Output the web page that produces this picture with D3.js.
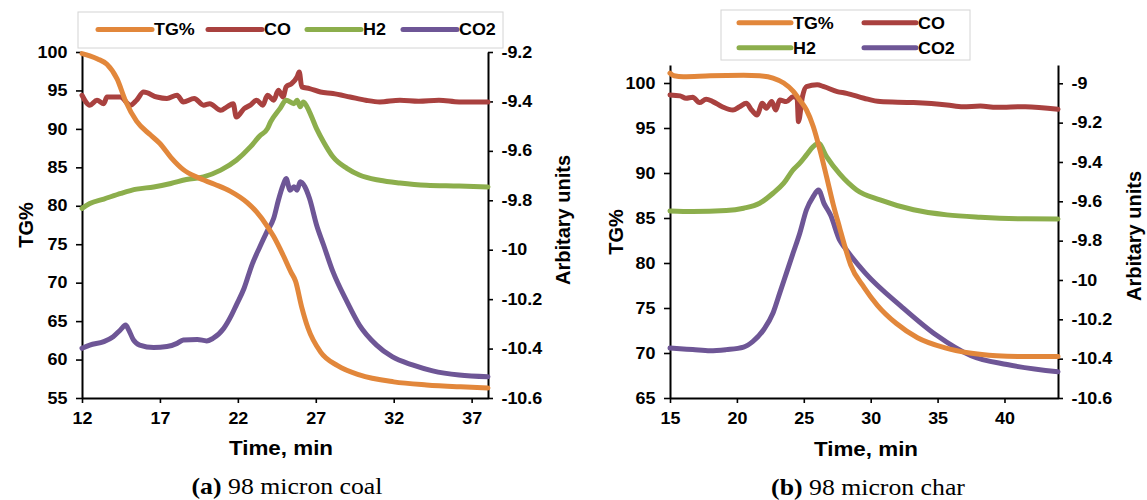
<!DOCTYPE html>
<html>
<head>
<meta charset="utf-8">
<script src="https://cdn.jsdelivr.net/npm/d3@7"></script>
<style>
  body { margin: 0; background: #fff; }
</style>
</head>
<body>
<div id="chart"></div>
<script>
// ---- data: [time in min, value] ----
// (a) 98 micron coal
const coalTG = [[12,99.8],[12.5,99.5],[13,99.1],[13.6,98.4],[14.25,96.5],[14.8,93.6],[15.5,91.0],[16.4,89.2],[17.0,88.1],[17.7,86.3],[18.5,84.7],[19.4,83.7],[20.5,82.8],[21.5,81.9],[22.6,80.4],[23.2,79.2],[23.9,77.3],[24.3,76.0],[24.9,73.6],[25.4,71.4],[25.7,70.2],[26.1,66.8],[26.5,64.1],[27.3,61.0],[28.4,59.2],[29.8,58.0],[32.0,57.1],[34.1,56.7],[36.3,56.45],[38.05,56.3]];
const coalCO = [[12,-9.375],[12.5,-9.415],[12.96,-9.395],[13.4,-9.409],[13.6,-9.382],[14.46,-9.382],[15.1,-9.415],[15.5,-9.395],[15.95,-9.362],[16.8,-9.382],[17.45,-9.388],[18.1,-9.375],[18.5,-9.402],[19.2,-9.388],[19.8,-9.415],[20.2,-9.409],[20.9,-9.436],[21.3,-9.422],[21.7,-9.409],[21.9,-9.463],[22.4,-9.429],[22.8,-9.415],[23.2,-9.395],[23.6,-9.415],[23.9,-9.375],[24.3,-9.395],[24.6,-9.355],[24.9,-9.382],[25.1,-9.341],[25.45,-9.328],[25.8,-9.301],[25.94,-9.281],[26.1,-9.341],[26.6,-9.348],[27.3,-9.362],[28.1,-9.368],[29.2,-9.382],[30.2,-9.395],[31.1,-9.402],[32.4,-9.395],[33.6,-9.399],[34.9,-9.395],[36.2,-9.402],[38.05,-9.402]];
const coalH2 = [[12,-9.833],[12.5,-9.813],[13.4,-9.795],[14.5,-9.772],[15.5,-9.755],[16.6,-9.746],[17.7,-9.732],[18.7,-9.716],[19.8,-9.705],[20.9,-9.678],[21.9,-9.638],[22.8,-9.584],[23.4,-9.54],[23.9,-9.51],[24.1,-9.483],[24.7,-9.429],[25.1,-9.395],[25.6,-9.409],[25.8,-9.395],[26.0,-9.422],[26.2,-9.402],[26.6,-9.443],[27.05,-9.51],[27.5,-9.564],[28.1,-9.624],[29.0,-9.671],[29.8,-9.698],[31.1,-9.719],[32.4,-9.73],[34.1,-9.739],[36.2,-9.742],[38.05,-9.746]];
const coalCO2 = [[12,-10.399],[12.5,-10.386],[13.4,-10.372],[14.0,-10.352],[14.46,-10.325],[14.8,-10.305],[15.0,-10.325],[15.3,-10.365],[15.7,-10.386],[16.6,-10.396],[17.45,-10.392],[18.1,-10.379],[18.5,-10.365],[19.4,-10.363],[20.0,-10.369],[20.4,-10.359],[21.1,-10.318],[21.6,-10.264],[21.9,-10.224],[22.4,-10.156],[22.9,-10.062],[23.4,-9.99],[23.86,-9.928],[24.3,-9.873],[24.6,-9.8],[24.9,-9.739],[25.1,-9.712],[25.35,-9.759],[25.6,-9.745],[25.8,-9.759],[26.0,-9.725],[26.3,-9.745],[26.6,-9.793],[27.05,-9.9],[27.5,-9.981],[28.1,-10.089],[29.0,-10.21],[29.8,-10.305],[30.9,-10.386],[31.9,-10.433],[33.2,-10.466],[34.5,-10.49],[36.2,-10.507],[38.05,-10.514]];

// (b) 98 micron char
const charTG = [[15,101.1],[15.3,100.8],[16,100.7],[18,100.8],[20.5,100.85],[21.7,100.8],[22.7,100.55],[23.5,100.0],[24.2,99.1],[24.7,98.1],[25.2,97.0],[25.7,95.2],[26.2,92.6],[26.7,89.6],[27.2,86.5],[27.7,83.8],[28.0,82.2],[28.5,79.8],[29.5,77.3],[30.5,75.3],[31.9,73.3],[33.5,71.7],[35.5,70.6],[37.4,70.0],[39.4,69.7],[41.6,69.6],[44,69.6]];
const charCO = [[15,-9.059],[15.75,-9.064],[16.2,-9.076],[16.7,-9.071],[17.2,-9.098],[17.7,-9.081],[18.2,-9.093],[18.9,-9.119],[19.7,-9.136],[20.2,-9.119],[20.7,-9.102],[21.1,-9.136],[21.5,-9.161],[21.9,-9.102],[22.2,-9.127],[22.6,-9.093],[22.9,-9.136],[23.2,-9.085],[23.7,-9.093],[24.2,-9.068],[24.5,-9.076],[24.6,-9.195],[24.9,-9.068],[25.2,-9.017],[26.0,-9.008],[26.5,-9.017],[27.5,-9.042],[28.2,-9.051],[29.5,-9.076],[30.7,-9.093],[33.2,-9.098],[35.7,-9.11],[36.9,-9.119],[38.2,-9.116],[39.4,-9.122],[41.55,-9.119],[44,-9.132]];
const charH2 = [[15,-9.649],[16.7,-9.652],[19.2,-9.647],[20.5,-9.635],[21.7,-9.61],[22.7,-9.559],[23.5,-9.508],[24.2,-9.44],[24.7,-9.406],[25.2,-9.364],[25.7,-9.322],[26.1,-9.305],[26.7,-9.373],[27.7,-9.462],[28.95,-9.542],[30.7,-9.593],[33.2,-9.643],[35.7,-9.669],[38.2,-9.681],[41.55,-9.689],[44,-9.69]];
const charCO2 = [[15,-10.346],[16.7,-10.354],[18.0,-10.36],[19.2,-10.354],[20.5,-10.341],[21.2,-10.312],[22.0,-10.253],[22.7,-10.168],[23.2,-10.067],[23.7,-9.965],[24.2,-9.863],[24.7,-9.762],[25.2,-9.643],[25.7,-9.576],[26.1,-9.542],[26.5,-9.609],[27.0,-9.67],[27.7,-9.8],[28.0,-9.83],[29.6,-9.965],[32.3,-10.135],[34.9,-10.28],[37.5,-10.385],[40.2,-10.43],[44,-10.467]];

const seriesNames = ["TG%", "CO", "H2", "CO2"];
const seriesColors = ["#e2873b", "#a9413f", "#8cae4c", "#6e5696"];

const coalTimeTicks = [12, 17, 22, 27, 32, 37];
const charTimeTicks = [15, 20, 25, 30, 35, 40];
const coalTGTicks = [55, 60, 65, 70, 75, 80, 85, 90, 95, 100];
const charTGTicks = [65, 70, 75, 80, 85, 90, 95, 100];
const coalArbTicks = [-10.6, -10.4, -10.2, -10, -9.8, -9.6, -9.4, -9.2];
const charArbTicks = [-10.6, -10.4, -10.2, -10, -9.8, -9.6, -9.4, -9.2, -9];

const W = 1147, H = 500;
const SANS = "'Liberation Sans', Arial, Helvetica, sans-serif";
const SERIF = "'Liberation Serif', 'Times New Roman', serif";
const SX = 1.12; // figure is slightly stretched sideways

const svg = d3.select("#chart").append("svg")
  .attr("width", W).attr("height", H)
  .attr("viewBox", [0, 0, W, H]);

function label(x, y, str, size, anchor, rot, family, weight) {
  const t = svg.append("text")
    .attr("text-anchor", anchor)
    .attr("font-family", family || SANS)
    .attr("font-weight", weight || "bold")
    .attr("font-size", size)
    .attr("fill", "#000")
    .attr("transform", rot ? `translate(${x},${y}) rotate(${rot})`
                           : `translate(${x},${y}) scale(${SX},1)`);
  if (typeof str === "string") t.text(str);
  return t;
}

function panel(p) {
  const x = d3.scaleLinear().domain(p.xDomain).range([p.left, p.right]);
  const yL = d3.scaleLinear().domain(p.yLDomain).range([p.bottom, p.top]);
  const yR = d3.scaleLinear().domain(p.yRDomain).range([p.bottom, p.top]);
  const fmt = d => String(+d.toFixed(1));

  const styleAxis = g => {
    g.attr("font-family", SANS).attr("font-weight", "bold").attr("font-size", 16);
    g.select(".domain").attr("stroke", "#000").attr("stroke-width", 2);
    g.selectAll(".tick line").attr("stroke", "#000").attr("stroke-width", 1.6);
    g.selectAll(".tick text").attr("fill", "#000");
  };

  svg.append("g").attr("transform", `translate(0,${p.bottom})`)
    .call(d3.axisBottom(x).tickValues(p.xTicks).tickSize(5).tickSizeOuter(0).tickPadding(10))
    .call(styleAxis)
    .call(g => g.selectAll(".tick text").attr("transform", `scale(${SX},1)`));

  svg.append("g").attr("transform", `translate(${p.left},0)`)
    .call(d3.axisLeft(yL).tickValues(p.yLTicks).tickSize(6).tickSizeOuter(0).tickPadding(7))
    .call(styleAxis)
    .call(g => g.selectAll(".tick text").attr("transform", `scale(${SX},1)`));

  svg.append("g").attr("transform", `translate(${p.right},0)`)
    .call(d3.axisRight(yR).tickValues(p.yRTicks).tickFormat(fmt).tickSize(5).tickSizeOuter(0).tickPadding(7))
    .call(styleAxis)
    .call(g => g.selectAll(".tick text").attr("transform", `scale(${SX},1)`));

  // curves: TG% on the left axis, gases on the right axis
  const lineL = d3.line().x(d => x(d[0])).y(d => yL(d[1])).curve(d3.curveMonotoneX);
  const lineR = d3.line().x(d => x(d[0])).y(d => yR(d[1])).curve(d3.curveMonotoneX);
  const order = [1, 2, 3, 0];
  order.forEach(i => {
    svg.append("path")
      .datum(p.series[i])
      .attr("d", i === 0 ? lineL : lineR)
      .attr("fill", "none")
      .attr("stroke", seriesColors[i])
      .attr("stroke-width", 5)
      .attr("stroke-linejoin", "round")
      .attr("stroke-linecap", "round");
  });

  // legend
  const lg = p.legend;
  svg.append("rect")
    .attr("x", lg.x0).attr("y", lg.y0)
    .attr("width", lg.x1 - lg.x0).attr("height", lg.y1 - lg.y0)
    .attr("fill", "#fff").attr("stroke", "#d4d4d4").attr("stroke-width", 1);
  lg.items.forEach((it, i) => {
    svg.append("line")
      .attr("x1", it[0]).attr("x2", it[0] + lg.len)
      .attr("y1", it[1]).attr("y2", it[1])
      .attr("stroke", seriesColors[i]).attr("stroke-width", 5)
      .attr("stroke-linecap", "round");
    label(it[0] + lg.len + 2, it[1] + 5.8, seriesNames[i], 16, "start");
  });

  // titles
  label(p.yLTitle[0], p.yLTitle[1], "TG%", 20, "middle", -90);
  label(p.yRTitle[0], p.yRTitle[1], "Arbitary units", 20, "middle", -90);
  label(p.xTitle[0], p.xTitle[1], "Time, min", 20, "middle");

  const cap = label(p.caption[0], p.caption[1], null, 23, "middle", 0, SERIF, "normal");
  cap.append("tspan").attr("font-weight", "bold").text(p.capTag);
  cap.append("tspan").text(" " + p.capText);
}

panel({
  xDomain: [12, 38.05], yLDomain: [55, 100], yRDomain: [-10.6, -9.2],
  left: 82, right: 488, top: 52, bottom: 398,
  xTicks: coalTimeTicks, yLTicks: coalTGTicks, yRTicks: coalArbTicks,
  series: [coalTG, coalCO, coalH2, coalCO2],
  legend: { x0: 78, y0: 12, x1: 503, y1: 48, len: 54,
            items: [[98, 29.5], [208, 29.5], [307, 29.5], [403, 29.5]] },
  yLTitle: [33, 225], yRTitle: [570, 220], xTitle: [281, 455],
  caption: [287, 494], capTag: "(a)", capText: "98 micron coal"
});

panel({
  xDomain: [15, 44], yLDomain: [65, 102], yRDomain: [-10.6, -8.907],
  left: 670, right: 1058, top: 65, bottom: 398,
  xTicks: charTimeTicks, yLTicks: charTGTicks, yRTicks: charArbTicks,
  series: [charTG, charCO, charH2, charCO2],
  legend: { x0: 721, y0: 10, x1: 970, y1: 60, len: 52,
            items: [[739, 22.7], [864, 22.7], [739, 47.7], [864, 47.7]] },
  yLTitle: [623, 232], yRTitle: [1141, 236], xTitle: [866, 456],
  caption: [868, 495], capTag: "(b)", capText: "98 micron char"
});
</script>
</body>
</html>
